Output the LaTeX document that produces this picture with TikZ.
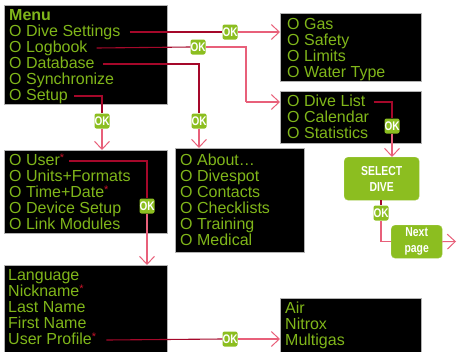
\documentclass[tikz,border=0pt]{standalone}
\usepackage{fontspec}
\setmainfont{Liberation Sans}
\newfontfamily\condfont[FakeStretch=0.8]{Liberation Sans}
\usetikzlibrary{arrows.meta}
\definecolor{txtgreen}{RGB}{128,182,26}
\definecolor{boxgreen}{RGB}{140,190,32}
\definecolor{darkline}{RGB}{165,8,42}
\definecolor{pinkline}{RGB}{232,96,122}
\definecolor{astred}{RGB}{200,20,40}
\newcommand{\redast}{\textcolor{astred}{\raisebox{4pt}{\fontsize{11}{11}\selectfont *}}}
\tikzset{
  menubox/.style={draw=gray!60, line width=0.6pt, fill=black, anchor=north west, inner sep=0pt},
  item/.style={anchor=west, inner sep=0pt, text=txtgreen, font=\fontsize{16}{16}\selectfont, text height=11.5pt, text depth=3pt},
  okbox/.style={fill=boxgreen, rounded corners=2pt, minimum width=15pt, minimum height=15pt, inner sep=0pt, text=white, font=\condfont\bfseries\fontsize{12.5}{12.5}\selectfont},
  greenbox/.style={fill=boxgreen, draw=boxgreen!80!white, rounded corners=4pt, anchor=north west, inner sep=0pt, text=white, align=center, font=\condfont\bfseries\fontsize{13}{16}\selectfont},
  pre/.style={draw=darkline, line width=1.1pt},
  post/.style={draw=pinkline, line width=1.1pt},
  arr/.style={post, -{Straight Barb[length=8pt,width=15pt,line width=1pt]}}
}
\begin{document}
\begin{tikzpicture}[x=1pt,y=-1pt]
\useasboundingbox (0,0) rectangle (457,351);
% boxes
\node[menubox, minimum width=163pt, minimum height=99pt] (menubox) at (4,5) {};
\node[menubox, minimum width=141pt, minimum height=68pt] (gasbox) at (280,13) {};
\node[menubox, minimum width=141pt, minimum height=52pt] (dlbox) at (280,91) {};
\node[menubox, minimum width=163pt, minimum height=83pt] (userbox) at (4,150) {};
\node[menubox, minimum width=129pt, minimum height=104pt] (aboutbox) at (175,148) {};
\node[menubox, minimum width=163pt, minimum height=87pt] (langbox) at (4,265) {};
\node[menubox, minimum width=141pt, minimum height=54pt] (airbox) at (280,298) {};
\node[greenbox, minimum width=75pt, minimum height=43pt] (select) at (344,157) {SELECT\\DIVE};
\node[greenbox, minimum width=51pt, minimum height=33pt] (next) at (391,225) {Next\\page};
% main menu
\node[item, font=\bfseries\fontsize{16}{16}\selectfont] (menu) at (9,16) {Menu};
\node[item] (ds) at (9,32) {O Dive Settings};
\node[item] (lb) at (9,48) {O Logbook};
\node[item] (db) at (9,64) {O Database};
\node[item] (sy) at (9,80) {O Synchronize};
\node[item] (su) at (9,96) {O Setup};
% dive settings
\node[item] (gas) at (287,25) {O Gas};
\node[item] (saf) at (287,41) {O Safety};
\node[item] (lim) at (287,57) {O Limits};
\node[item] (wt) at (287,73) {O Water Type};
% logbook
\node[item] (dl) at (287,102) {O Dive List};
\node[item] (cal) at (287,118) {O Calendar};
\node[item] (sta) at (287,134) {O Statistics};
% setup
\node[item] (us) at (9,161) {O User\redast};
\node[item] (uf) at (9,177) {O Units+Formats};
\node[item] (td) at (9,193) {O Time+Date\redast};
\node[item] (dvs) at (9,209) {O Device Setup};
\node[item] (lm) at (9,225) {O Link Modules};
% database
\node[item] (ab) at (180,161) {O About\ldots};
\node[item] (dsp) at (180,177) {O Divespot};
\node[item] (con) at (180,193) {O Contacts};
\node[item] (chk) at (180,209) {O Checklists};
\node[item] (tr) at (180,225) {O Training};
\node[item] (med) at (180,241) {O Medical};
% user
\node[item] (lang) at (8,276) {Language};
\node[item] (nick) at (8,292) {Nickname\redast};
\node[item] (ln) at (8,308) {Last Name};
\node[item] (fn) at (8,324) {First Name};
\node[item] (up) at (8,340) {User Profile\redast};
% user profile
\node[item] (air) at (285,309) {Air};
\node[item] (nit) at (285,325) {Nitrox};
\node[item] (mg) at (285,341) {Multigas};
% OK buttons
\node[okbox] (ok1) at (230,32) {OK};
\node[okbox] (ok2) at (198,47) {OK};
\node[okbox] (ok3) at (102,121) {OK};
\node[okbox] (ok4) at (199,121) {OK};
\node[okbox] (ok5) at (147,206) {OK};
\node[okbox] (ok6) at (230,339) {OK};
\node[okbox] (ok7) at (392,126) {OK};
\node[okbox] (ok8) at (381,213) {OK};
% connectors
\draw[pre] ([xshift=9pt]ds.east) -- (ok1.west);
\draw[arr] (ok1.east) -- (gasbox.west |- ok1);
\draw[pre] ([xshift=9pt]lb.east) -- (ok2.west);
\draw[post] (ok2.east) -- (246,47) -- (246,102);
\draw[arr] (246,102) -- (dlbox.west |- dl);
\draw[pre] ([xshift=8pt]db.east) -- (199,64) -- (ok4.north);
\draw[arr] (ok4.south) -- (aboutbox.north -| ok4);
\draw[pre] ([xshift=6pt]su.east) -- (102,96) -- (ok3.north);
\draw[arr] (ok3.south) -- (userbox.north -| ok3);
\draw[pre] ([xshift=5pt]us.east) -- (147,161) -- (ok5.north);
\draw[arr] (ok5.south) -- (langbox.north -| ok5);
\draw[pre] ([xshift=10pt]up.east) -- (ok6.west);
\draw[arr] (ok6.east) -- (airbox.west |- ok6);
\draw[pre] ([xshift=8pt]dl.east) -- (392,102) -- (ok7.north);
\draw[arr] (ok7.south) -- (select.north -| ok7);
\draw[pre] (select.south -| ok8) -- (ok8.north);
\draw[post] (ok8.south) |- (next.west);
\coordinate (outend) at (456,241.5);
\draw[arr] (next.east) -- (outend);
\end{tikzpicture}
\end{document}
